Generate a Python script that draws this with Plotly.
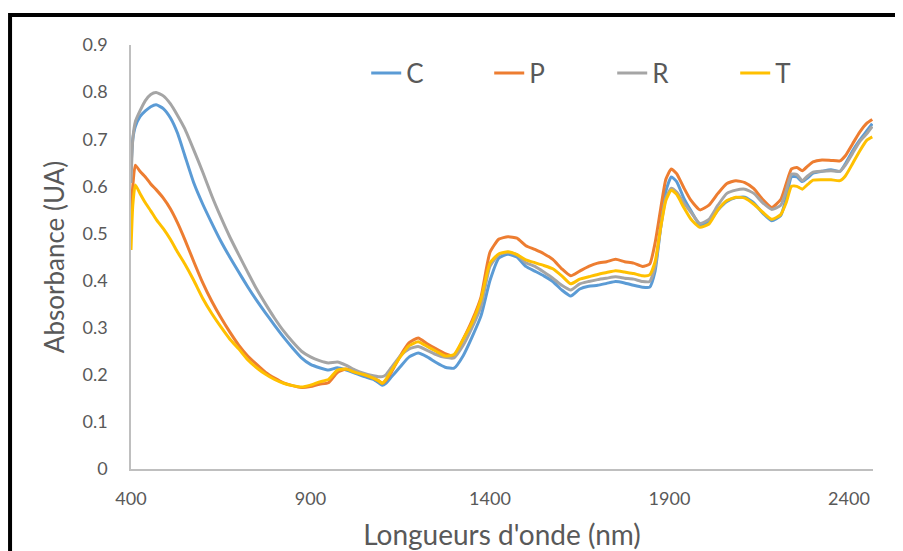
import plotly.graph_objects as go

wavelength = [400, 405, 412, 425, 440, 455, 470, 490, 510, 530, 550, 575, 600, 625, 650, 675, 700, 725, 750, 775,
              800, 825, 850, 875, 900, 925, 950, 975, 1000, 1025, 1050, 1075, 1090, 1100, 1110, 1125, 1150, 1175,
              1200, 1225, 1250, 1275, 1300, 1325, 1350, 1375, 1400, 1425, 1450, 1475, 1500, 1525, 1550, 1575, 1600,
              1625, 1650, 1675, 1700, 1725, 1750, 1775, 1800, 1825, 1845, 1860, 1875, 1890, 1905, 1920, 1940, 1960,
              1985, 2010, 2035, 2060, 2085, 2110, 2135, 2160, 2185, 2210, 2225, 2240, 2255, 2270, 2285, 2300, 2325,
              2350, 2375, 2390, 2410, 2430, 2450, 2465]

C = [0.640, 0.700, 0.727, 0.748, 0.760, 0.769, 0.773, 0.765, 0.745, 0.712, 0.665, 0.607, 0.562, 0.522, 0.484, 0.450,
     0.418, 0.387, 0.358, 0.331, 0.305, 0.280, 0.257, 0.236, 0.222, 0.215, 0.210, 0.215, 0.210, 0.203, 0.196, 0.190,
     0.183, 0.178, 0.182, 0.195, 0.217, 0.238, 0.246, 0.238, 0.226, 0.216, 0.214, 0.240, 0.280, 0.325, 0.400, 0.448,
     0.456, 0.450, 0.430, 0.420, 0.410, 0.398, 0.380, 0.367, 0.382, 0.388, 0.390, 0.394, 0.398, 0.395, 0.390, 0.386,
     0.386, 0.420, 0.510, 0.590, 0.620, 0.610, 0.575, 0.548, 0.518, 0.524, 0.550, 0.568, 0.576, 0.577, 0.565, 0.543,
     0.527, 0.538, 0.575, 0.620, 0.620, 0.610, 0.618, 0.628, 0.632, 0.635, 0.632, 0.648, 0.675, 0.698, 0.718, 0.733]

P = [0.543, 0.600, 0.645, 0.632, 0.620, 0.605, 0.593, 0.575, 0.552, 0.522, 0.487, 0.440, 0.395, 0.356, 0.322, 0.291,
     0.263, 0.240, 0.222, 0.205, 0.193, 0.183, 0.177, 0.173, 0.175, 0.180, 0.183, 0.205, 0.212, 0.206, 0.200, 0.193,
     0.187, 0.182, 0.188, 0.205, 0.240, 0.268, 0.278, 0.266, 0.255, 0.245, 0.240, 0.275, 0.315, 0.365, 0.460, 0.488,
     0.493, 0.490, 0.474, 0.466, 0.457, 0.445, 0.425, 0.410, 0.420, 0.430, 0.437, 0.440, 0.445, 0.440, 0.437, 0.430,
     0.435, 0.480, 0.550, 0.615, 0.637, 0.627, 0.597, 0.570, 0.550, 0.560, 0.585, 0.606, 0.612, 0.608, 0.595, 0.572,
     0.555, 0.572, 0.605, 0.637, 0.640, 0.633, 0.643, 0.652, 0.656, 0.655, 0.654, 0.665, 0.690, 0.715, 0.734, 0.742]

R = [0.607, 0.700, 0.737, 0.760, 0.782, 0.795, 0.799, 0.792, 0.775, 0.750, 0.722, 0.677, 0.630, 0.580, 0.535, 0.493,
     0.455, 0.418, 0.382, 0.350, 0.320, 0.293, 0.270, 0.250, 0.238, 0.230, 0.225, 0.227, 0.220, 0.210, 0.203, 0.198,
     0.196, 0.196, 0.200, 0.215, 0.240, 0.255, 0.260, 0.252, 0.243, 0.237, 0.236, 0.262, 0.300, 0.345, 0.430, 0.455,
     0.460, 0.455, 0.438, 0.430, 0.418, 0.405, 0.390, 0.380, 0.393, 0.398, 0.402, 0.405, 0.408, 0.405, 0.403, 0.398,
     0.398, 0.430, 0.510, 0.575, 0.596, 0.588, 0.565, 0.545, 0.521, 0.530, 0.560, 0.585, 0.592, 0.594, 0.585, 0.565,
     0.551, 0.560, 0.590, 0.626, 0.625, 0.612, 0.622, 0.630, 0.632, 0.633, 0.632, 0.645, 0.670, 0.695, 0.712, 0.727]

T = [0.465, 0.560, 0.603, 0.585, 0.565, 0.548, 0.530, 0.510, 0.487, 0.460, 0.435, 0.400, 0.362, 0.330, 0.302, 0.276,
     0.255, 0.232, 0.215, 0.201, 0.190, 0.182, 0.177, 0.174, 0.178, 0.185, 0.190, 0.210, 0.212, 0.205, 0.200, 0.193,
     0.187, 0.182, 0.190, 0.208, 0.238, 0.262, 0.270, 0.260, 0.250, 0.240, 0.243, 0.275, 0.310, 0.360, 0.437, 0.457,
     0.461, 0.455, 0.444, 0.438, 0.432, 0.425, 0.410, 0.393, 0.403, 0.408, 0.413, 0.417, 0.421, 0.418, 0.415, 0.410,
     0.412, 0.440, 0.510, 0.570, 0.592, 0.583, 0.555, 0.530, 0.513, 0.520, 0.550, 0.570, 0.577, 0.575, 0.562, 0.545,
     0.530, 0.540, 0.565, 0.600, 0.600, 0.594, 0.604, 0.613, 0.614, 0.614, 0.612, 0.622, 0.648, 0.675, 0.698, 0.705]

series_names = ["C", "P", "R", "T"]
series_values = [C, P, R, T]
series_colors = ["#5B9BD5", "#ED7D31", "#A5A5A5", "#FFC000"]

x_ticks = [400, 900, 1400, 1900, 2400]
y_ticks = [0, 0.1, 0.2, 0.3, 0.4, 0.5, 0.6, 0.7, 0.8, 0.9]

FONT = "Lato"
GREY_TXT = "#595959"

fig = go.Figure()
for name, vals, col in zip(series_names, series_values, series_colors):
    fig.add_trace(go.Scatter(
        x=wavelength, y=vals, name=name, mode="lines",
        line=dict(color=col, width=3, shape="spline", smoothing=0.5),
    ))

# page body has an 8px margin, so the figure is 8px smaller and margins are shifted
fig.update_layout(
    width=895, height=543,
    margin=dict(l=123, r=30, t=37, b=82, autoexpand=False),
    paper_bgcolor="white", plot_bgcolor="white",
    font=dict(family=FONT, color=GREY_TXT),
    showlegend=True,
    legend=dict(
        orientation="h", x=0.317, xanchor="left", y=0.934, yanchor="middle",
        font=dict(family=FONT, size=26, color=GREY_TXT),
        entrywidth=78, entrywidthmode="pixels",
        bgcolor="rgba(0,0,0,0)",
    ),
    xaxis=dict(
        range=[400, 2467], tickvals=x_ticks, ticktext=[str(v) for v in x_ticks],
        showgrid=False, zeroline=False, showline=True, linecolor="#BFBFBF", linewidth=1.5,
        ticks="", ticklabelstandoff=13, automargin=False,
        tickfont=dict(family=FONT, size=18, color=GREY_TXT),
        title=dict(text="Longueurs d'onde (nm)", font=dict(family=FONT, size=28, color=GREY_TXT), standoff=20),
    ),
    yaxis=dict(
        range=[0, 0.9], tickvals=y_ticks, ticktext=[("0" if v == 0 else f"{v:.1f}") for v in y_ticks],
        showgrid=False, zeroline=False, showline=True, linecolor="#BFBFBF", linewidth=1.5,
        ticks="", ticklabelstandoff=18, automargin=False,
        tickfont=dict(family=FONT, size=18, color=GREY_TXT),
        title=dict(text="Absorbance (UA)", font=dict(family=FONT, size=26, color=GREY_TXT), standoff=10),
    ),
    shapes=[dict(type="rect", xref="paper", yref="paper",
                 x0=-0.163, x1=1.1, y0=-0.25, y1=1.0708,
                 line=dict(color="black", width=4), fillcolor="rgba(0,0,0,0)", layer="above")],
)

fig.write_html("out.html")
